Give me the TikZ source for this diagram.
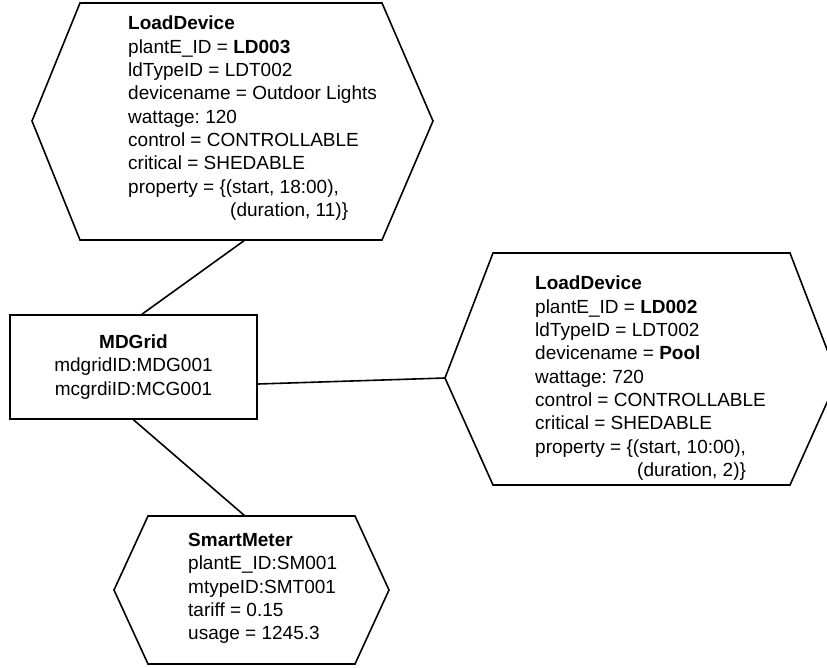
\documentclass[tikz,border=0pt]{standalone}
\usepackage{fontspec}
\setmainfont{Liberation Sans}
\usetikzlibrary{positioning}
\frenchspacing

\begin{document}
\begin{tikzpicture}[
  x=1pt,y=-1pt,
  font=\fontsize{19}{23.3}\selectfont,
  hexline/.style={draw=black,line width=1.6pt,line join=miter},
  info/.style={align=left,inner sep=0pt,anchor=north west},
  gridbox/.style={draw=black,line width=1.6pt,minimum width=247pt,minimum height=104pt,align=center,inner sep=0pt},
  link/.style={draw=black,line width=1.6pt}
]
\clip (0,0) rectangle (827,667);

% hexagon outlines
\draw[hexline] (80,3) -- (382,3) -- (433,121) -- (382,240) -- (80,240) -- (32,121) -- cycle;
\draw[hexline] (493,253) -- (790,253) -- (838,378) -- (790,485) -- (493,485) -- (445,378) -- cycle;
\draw[hexline] (148,516) -- (355,516) -- (389,590) -- (355,664) -- (148,664) -- (114,590) -- cycle;
\coordinate (ld3s) at (245,240);
\coordinate (ld2w) at (445,378);
\coordinate (smn) at (245,516);

\node[info] (ld3) at (128,16) {\textbf{LoadDevice}\\
  plantE\_ID = \textbf{LD003}\\
  ldTypeID = LDT002\\
  devicename = Outdoor Lights\\
  wattage: 120\\
  control = CONTROLLABLE\\
  critical = SHEDABLE\\
  property = \{(start, 18:00),\\
  \hspace*{102pt}(duration, 11)\}};

\node[info] (ld2) at (535,276) {\textbf{LoadDevice}\\
  plantE\_ID = \textbf{LD002}\\
  ldTypeID = LDT002\\
  devicename = \textbf{Pool}\\
  wattage: 720\\
  control = CONTROLLABLE\\
  critical = SHEDABLE\\
  property = \{(start, 10:00),\\
  \hspace*{102pt}(duration, 2)\}};

\node[gridbox] (grid) at (133.5,367) {\textbf{MDGrid}\\mdgridID:MDG001\\mcgrdiID:MCG001};

\node[info] (sm) at (188,533) {\textbf{SmartMeter}\\
  plantE\_ID:SM001\\
  mtypeID:SMT001\\
  tariff = 0.15\\
  usage = 1245.3};

\draw[link] (ld3s) -- ([xshift=8.5pt]grid.north);
\draw[link] ([yshift=-17pt]grid.east) -- (ld2w);
\draw[link] (grid.south) -- (smn);
\end{tikzpicture}
\end{document}
